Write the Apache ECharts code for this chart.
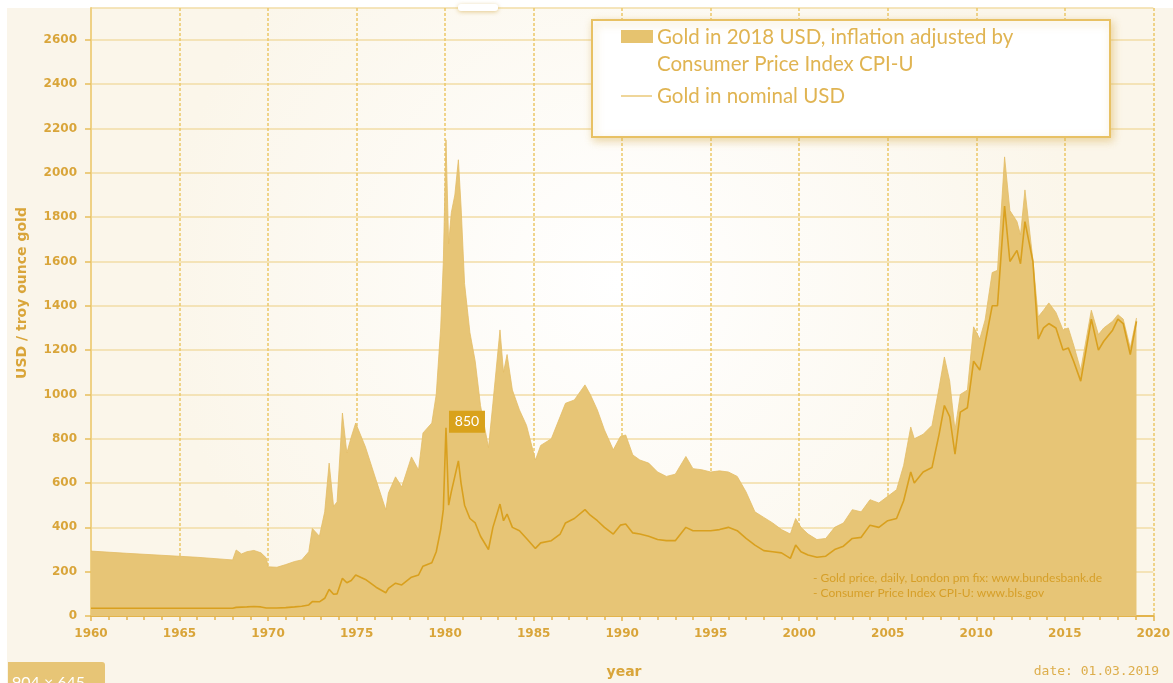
<!DOCTYPE html>
<html>
<head>
<meta charset="utf-8">
<title>Gold price 1960-2019</title>
<script src="https://cdn.jsdelivr.net/npm/echarts@6/dist/echarts.min.js"></script>
<style>
	body { margin: 0; background: #fff; }
	#wrap { position: relative; width: 1173px; height: 683px; overflow: hidden; }
	#panel { position: absolute; left: 7px; top: 8px; right: 0; bottom: 0; background: #FAF5EA; }
	#chart { position: absolute; left: 0; top: 0; width: 1173px; height: 683px; }
</style>
</head>
<body>
<div id="wrap">
	<div id="panel"></div>
	<div id="chart"></div>
</div>
<script type="text/javascript">
	// decimal years
	var years = [1960.0, 1962.0, 1964.0, 1966.0, 1968.0, 1968.2, 1968.5, 1968.8, 1969.2, 1969.6, 1969.9,
		1970.0, 1970.5, 1971.0, 1971.5, 1971.9, 1972.3, 1972.5, 1972.9, 1973.2, 1973.45, 1973.7, 1973.9,
		1974.2, 1974.45, 1974.7, 1974.95, 1975.5, 1976.1, 1976.65, 1976.8, 1977.2, 1977.55, 1978.1, 1978.5,
		1978.75, 1979.25, 1979.5, 1979.75, 1979.9, 1980.05, 1980.2, 1980.35, 1980.55, 1980.75, 1980.9,
		1981.1, 1981.4, 1981.7, 1982.0, 1982.45, 1982.7, 1983.1, 1983.3, 1983.5, 1983.8, 1984.2, 1984.6,
		1985.1, 1985.4, 1986.0, 1986.5, 1986.8, 1987.3, 1987.9, 1988.2, 1988.6, 1989.0, 1989.5, 1989.9,
		1990.2, 1990.6, 1991.0, 1991.5, 1992.0, 1992.5, 1993.0, 1993.6, 1994.0, 1994.5, 1995.0, 1995.5,
		1996.0, 1996.5, 1997.0, 1997.5, 1998.0, 1998.5, 1999.0, 1999.5, 1999.8, 2000.1, 2000.5, 2001.0,
		2001.5, 2002.0, 2002.5, 2003.0, 2003.5, 2004.0, 2004.5, 2005.0, 2005.5, 2005.9, 2006.3, 2006.5,
		2007.0, 2007.5, 2007.9, 2008.2, 2008.5, 2008.8, 2009.1, 2009.5, 2009.85, 2010.2, 2010.5, 2010.9,
		2011.2, 2011.6, 2011.9, 2012.3, 2012.5, 2012.75, 2013.2, 2013.5, 2013.8, 2014.1, 2014.5, 2014.9,
		2015.2, 2015.5, 2015.9, 2016.5, 2016.9, 2017.2, 2017.7, 2018.0, 2018.3, 2018.7, 2019.05];

	// Gold in 2018 USD (CPI-U adjusted)
	var realGold = [293, 283, 274, 265, 253, 298, 280, 290, 296, 285, 262,
		222, 220, 232, 246, 253, 290, 395, 360, 470, 690, 495, 515,
		916, 736, 808, 871, 763, 614, 479, 555, 628, 582, 718, 659,
		826, 871, 1000, 1300, 1600, 2149, 1680, 1820, 1900, 2059, 1850,
		1500, 1280, 1150, 950, 760, 960, 1291, 1100, 1180, 1020, 930, 860,
		704, 770, 800, 900, 960, 975, 1043, 1000, 930, 840, 750, 810,
		817, 727, 704, 690, 650, 630, 640, 720, 665, 660, 650, 655,
		650, 630, 560, 470, 445, 420, 390, 370, 440, 400, 370, 345,
		350, 400, 420, 480, 470, 525, 510, 540, 570, 680, 853, 800,
		820, 860, 1030, 1169, 1060, 840, 1000, 1020, 1305, 1250, 1336, 1550,
		1560, 2072, 1830, 1780, 1720, 1923, 1607, 1350, 1380, 1413, 1370, 1291,
		1300, 1223, 1110, 1380, 1270, 1300, 1330, 1360, 1340, 1210, 1345];

	// Gold in nominal USD
	var nominalGold = [35, 35, 35, 35, 35, 39, 40, 41, 43, 41, 36,
		35, 36, 38, 41, 44, 50, 65, 64, 80, 120, 98, 100,
		170, 150, 160, 185, 165, 130, 105, 125, 148, 140, 175, 185,
		225, 240, 290, 390, 480, 850, 500, 560, 630, 700, 600,
		500, 440, 420, 360, 300, 400, 505, 430, 460, 400, 385, 350,
		305, 330, 340, 370, 420, 440, 480, 455, 430, 400, 370, 410,
		415, 375, 370, 360, 345, 340, 340, 400, 385, 385, 385, 390,
		400, 385, 350, 320, 295, 290, 285, 260, 320, 290, 275, 265,
		270, 300, 315, 350, 355, 410, 400, 430, 440, 520, 650, 600,
		650, 670, 820, 950, 900, 730, 920, 940, 1150, 1110, 1230, 1400,
		1400, 1850, 1600, 1650, 1590, 1780, 1600, 1250, 1300, 1320, 1300, 1200,
		1210, 1150, 1060, 1340, 1200, 1240, 1290, 1340, 1320, 1180, 1330];

	var yTicks = [0, 200, 400, 600, 800, 1000, 1200, 1400, 1600, 1800, 2000, 2200, 2400, 2600];
	var xTicks = [1960, 1965, 1970, 1975, 1980, 1985, 1990, 1995, 2000, 2005, 2010, 2015, 2020];

	var gold = '#D9A53A';
	var myChart = echarts.init(document.getElementById('chart'), null, {renderer: 'canvas'});

	var realData = years.map(function (y, i) { return [y, realGold[i]]; });
	var nominalData = years.map(function (y, i) { return [y, nominalGold[i]]; });

	option = {
		animation: false,
		backgroundColor: 'transparent',
		grid: {
			left: 91, right: 16, top: 8, bottom: 67,
			show: true, borderWidth: 0,
			backgroundColor: {
				type: 'radial', x: 0.5, y: 0.45, r: 0.75,
				colorStops: [{offset: 0, color: '#FFFFFF'}, {offset: 1, color: '#FBF6EA'}]
			}
		},
		xAxis: {
			type: 'value',
			min: xTicks[0], max: xTicks[xTicks.length - 1], interval: 5,
			axisLine: {lineStyle: {color: '#E3B44C', width: 2}},
			axisTick: {show: true, length: 5, lineStyle: {color: '#E3B44C', width: 1.5}},
			minorTick: {show: true, splitNumber: 5, length: 4, lineStyle: {color: '#E3B44C', width: 1.5}},
			axisLabel: {
				color: gold, fontFamily: 'DejaVu Sans', fontWeight: 'bold', fontSize: 12, margin: 12,
				formatter: function (v) { return xTicks.indexOf(v) >= 0 ? String(v) : ''; }
			},
			splitLine: {show: true, lineStyle: {color: '#ECC768', width: 1.5, type: [3, 2]}}
		},
		yAxis: {
			type: 'value',
			min: 0, max: 2744, interval: 200,
			axisLine: {show: true, lineStyle: {color: '#EFD185', width: 2}},
			axisTick: {show: true, length: 6, lineStyle: {color: '#E8BE5E', width: 1.5}},
			axisLabel: {
				color: gold, fontFamily: 'DejaVu Sans', fontWeight: 'bold', fontSize: 12, margin: 14,
				showMaxLabel: false,
				formatter: function (v) { return yTicks.indexOf(v) >= 0 ? String(v) : ''; }
			},
			splitLine: {show: true, lineStyle: {color: '#F2DDA6', width: 1.5}}
		},
		series: [
			{
				name: 'Gold in 2018 USD, inflation adjusted by Consumer Price Index CPI-U',
				type: 'line',
				data: realData,
				symbol: 'none',
				lineStyle: {width: 0.8, color: '#E3BD66'},
				areaStyle: {color: '#E7C576', opacity: 1},
				z: 2
			},
			{
				name: 'Gold in nominal USD',
				type: 'line',
				data: nominalData,
				symbol: 'none',
				lineStyle: {width: 1.6, color: '#D9A01E'},
				z: 3,
				markPoint: {
					symbol: 'rect',
					symbolSize: [36, 22],
					symbolOffset: [21, -6],
					itemStyle: {color: '#D9A21B'},
					label: {show: true, color: '#fff', fontFamily: 'Lato', fontSize: 14, formatter: '850'},
					data: [{coord: [1980.05, 850], value: 850}]
				}
			}
		],
		graphic: [
			// legend box
			{type: 'rect', shape: {x: 592, y: 20, width: 518, height: 117},
				style: {fill: '#fff', stroke: '#E8C164', lineWidth: 2,
					shadowBlur: 8, shadowColor: 'rgba(214,170,70,0.45)', shadowOffsetX: 2, shadowOffsetY: 3}, z: 10},
			{type: 'rect', shape: {x: 621, y: 30, width: 32, height: 13}, style: {fill: '#E6C36F'}, z: 11},
			{type: 'text', x: 657, y: 37, style: {text: 'Gold in 2018 USD, inflation adjusted by', fill: '#E0B452',
				font: '20.5px Lato', verticalAlign: 'middle'}, z: 11},
			{type: 'text', x: 657, y: 64, style: {text: 'Consumer Price Index CPI-U', fill: '#E0B452',
				font: '20.5px Lato', verticalAlign: 'middle'}, z: 11},
			{type: 'line', shape: {x1: 621, y1: 96, x2: 652, y2: 96}, style: {stroke: '#EFD69A', lineWidth: 2}, z: 11},
			{type: 'text', x: 657, y: 96, style: {text: 'Gold in nominal USD', fill: '#E0B452',
				font: '20.5px Lato', verticalAlign: 'middle'}, z: 11},
			// sources
			{type: 'text', x: 813, y: 578, style: {text: '- Gold price, daily, London pm fix: www.bundesbank.de',
				fill: '#D69F28', font: '12px Lato', verticalAlign: 'middle'}, z: 11},
			{type: 'text', x: 813, y: 593, style: {text: '- Consumer Price Index CPI-U: www.bls.gov',
				fill: '#D69F28', font: '12px Lato', verticalAlign: 'middle'}, z: 11},
			// axis names and date
			{type: 'text', x: 22, y: 293, rotation: Math.PI / 2, style: {text: 'USD / troy ounce gold', fill: gold,
				font: 'bold 14px "DejaVu Sans"', align: 'center', verticalAlign: 'middle'}, z: 11},
			{type: 'text', x: 624, y: 672, style: {text: 'year', fill: gold,
				font: 'bold 14px "DejaVu Sans"', align: 'center', verticalAlign: 'middle'}, z: 11},
			{type: 'text', x: 1159, y: 672, style: {text: 'date: 01.03.2019', fill: '#DDAE4C',
				font: '13px "DejaVu Sans Mono"', align: 'right', verticalAlign: 'middle'}, z: 11},
			// size badge and small top tab
			{type: 'rect', shape: {x: 8, y: 662, width: 97, height: 30, r: [0, 3, 0, 0]}, style: {fill: '#E7C576'}, z: 11},
			{type: 'text', x: 12, y: 683, style: {text: '904 × 645', fill: '#fff', font: '16px Lato', verticalAlign: 'middle'}, z: 12},
			{type: 'rect', shape: {x: 458, y: 4, width: 40, height: 7, r: 3},
				style: {fill: '#fff', shadowBlur: 4, shadowColor: 'rgba(214,170,70,0.6)', shadowOffsetY: 1}, z: 10}
		]
	};
	myChart.setOption(option);
</script>
</body>
</html>
